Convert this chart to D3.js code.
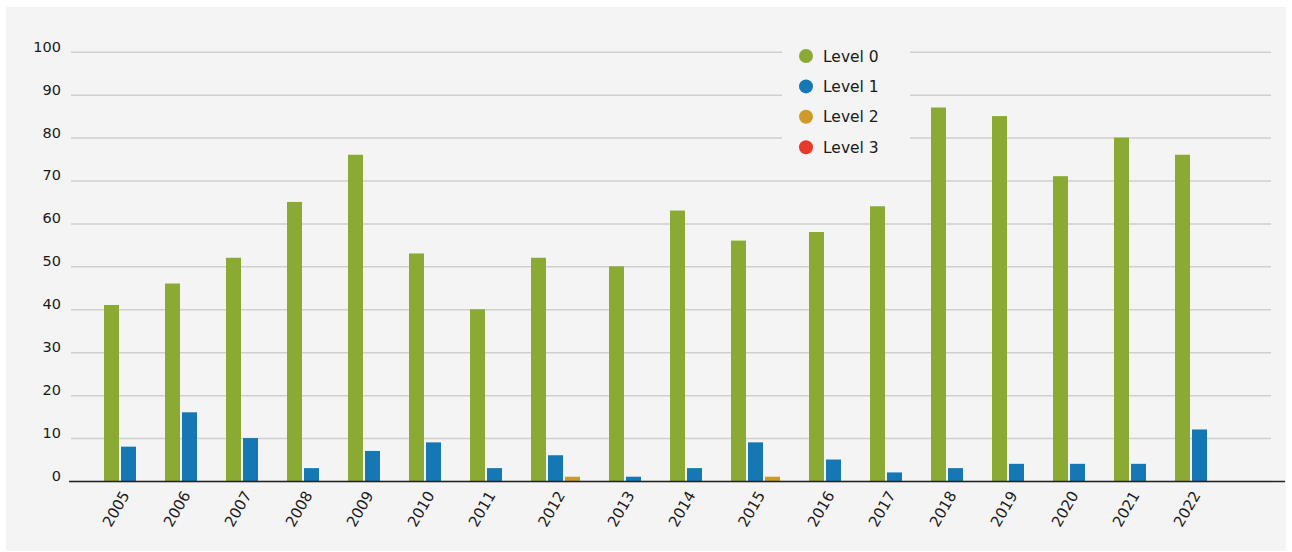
<!DOCTYPE html>
<html>
<head>
<meta charset="utf-8">
<script src="https://cdn.jsdelivr.net/npm/d3@7"></script>
<style>
  html, body { margin: 0; padding: 0; background: #ffffff; }
  svg { display: block; font-family: "DejaVu Sans", "Noto Sans", sans-serif; }
</style>
</head>
<body>
<svg id="chart" width="1292" height="552"></svg>
<script>
// ---- data ----
const years = ["2005","2006","2007","2008","2009","2010","2011","2012","2013","2014","2015","2016","2017","2018","2019","2020","2021","2022"];
const seriesNames = ["Level 0","Level 1","Level 2","Level 3"];
const level0 = [41,46,52,65,76,53,40,52,50,63,56,58,64,87,85,71,80,76];
const level1 = [8,16,10,3,7,9,3,6,1,3,9,5,2,3,4,4,4,12];
const level2 = [0,0,0,0,0,0,0,1,0,0,1,0,0,0,0,0,0,0];
const level3 = [0,0,0,0,0,0,0,0,0,0,0,0,0,0,0,0,0,0];
const yTicks = [0,10,20,30,40,50,60,70,80,90,100];

// ---- style ----
const colors = ["#8aaa34","#1577b3","#cf9a29","#e83a2a"];
const barW = 15, innerGap = 2, outerGap = 29;

const svg = d3.select("#chart");
svg.append("rect").attr("x",6).attr("y",7).attr("width",1280).attr("height",544).attr("fill","#f4f4f4");

const series = [level0, level1, level2, level3];

// groups: only non-zero series are drawn, each group width depends on bar count
let cursor = 0;
const groups = years.map((yr, i) => {
  const vals = series.map((s, k) => ({k, v: s[i]})).filter(d => d.v > 0);
  const start = cursor + outerGap / 2;
  const bars = vals.map((d, j) => ({year: yr, k: d.k, v: d.v, u: start + j * (barW + innerGap)}));
  const width = vals.length * barW + (vals.length - 1) * innerGap;
  cursor += width + outerGap;
  return {year: yr, bars, center: start + width / 2};
});
const totalUnits = cursor;

const x0 = 89.5;
const x = d3.scaleLinear().domain([0, totalUnits]).range([x0, x0 + totalUnits]);
const y = d3.scaleLinear().domain([0, 100]).range([481, 51.7]);

// gridlines
svg.append("g").selectAll("line").data(yTicks).join("line")
  .attr("x1", 71).attr("x2", 1271)
  .attr("y1", d => y(d) + 0.5).attr("y2", d => y(d) + 0.5)
  .attr("stroke", "#cfcfcf").attr("stroke-width", 1.5);

// y labels
svg.append("g").selectAll("text").data(yTicks).join("text")
  .attr("x", 61).attr("y", d => y(d))
  .attr("text-anchor", "end")
  .attr("font-size", 14.5).attr("fill", "#1a1a1a")
  .text(d => d);

// legend background (covers gridlines)
svg.append("rect").attr("x", 782).attr("y", 38).attr("width", 128).attr("height", 124).attr("fill", "#f4f4f4");

// bars
svg.append("g").selectAll("g").data(groups).join("g")
  .selectAll("rect").data(g => g.bars).join("rect")
  .attr("x", d => x(d.u)).attr("width", barW)
  .attr("y", d => y(d.v)).attr("height", d => y(0) - y(d.v))
  .attr("fill", d => colors[d.k]);

// x axis line
svg.append("line").attr("x1", 69).attr("x2", 1285)
  .attr("y1", y(0) + 0.5).attr("y2", y(0) + 0.5)
  .attr("stroke", "#222").attr("stroke-width", 1.5);

// x labels
svg.append("g").selectAll("text").data(groups).join("text")
  .attr("transform", d => `translate(${x(d.center) + 10},${495}) rotate(-60)`)
  .attr("text-anchor", "end")
  .attr("font-size", 15).attr("fill", "#1a1a1a")
  .text(d => d.year);

// legend
const leg = svg.append("g").selectAll("g").data(seriesNames).join("g")
  .attr("transform", (d, i) => `translate(806,${56 + i * 30.4})`);
leg.append("circle").attr("r", 7).attr("fill", (d, i) => colors[i]);
leg.append("text").attr("x", 17).attr("dy", "0.36em")
  .attr("font-size", 15.5).attr("fill", "#1a1a1a").text(d => d);
</script>
</body>
</html>
